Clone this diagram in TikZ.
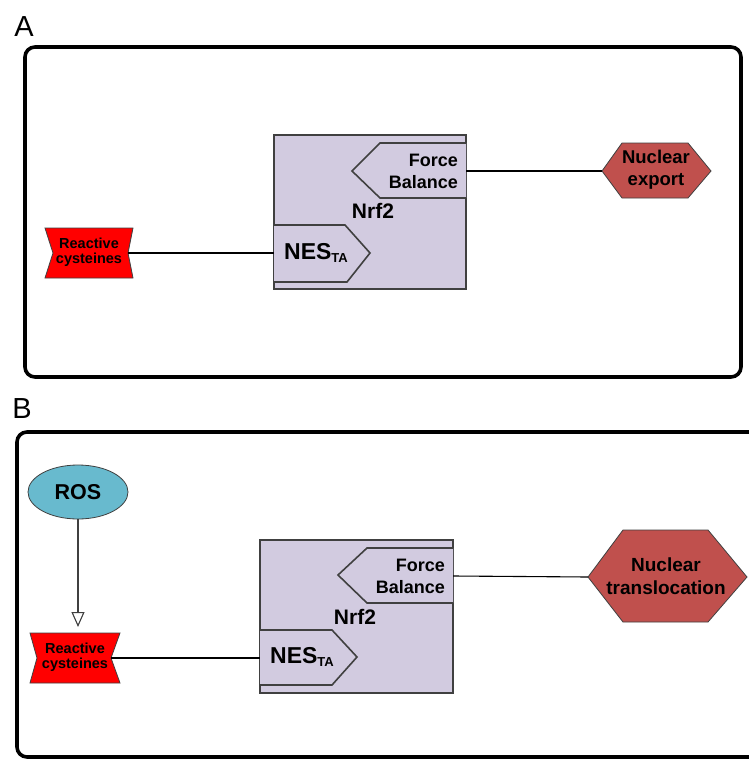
\documentclass[tikz,border=0pt]{standalone}
\usepackage{fontspec}
\setmainfont{Liberation Sans}
\usetikzlibrary{arrows.meta,shapes.geometric}
\definecolor{nrfbg}{RGB}{210,203,224}
\definecolor{edgegray}{RGB}{64,64,64}
\definecolor{cysred}{RGB}{255,0,0}
\definecolor{hexred}{RGB}{192,80,77}
\definecolor{rosblue}{RGB}{104,186,206}
\tikzset{
  panel/.style={draw=black, line width=3.6pt, rounded corners=10pt},
  protein/.style={fill=nrfbg, draw=edgegray, line width=1.6pt},
  protdomain/.style={fill=nrfbg, draw=edgegray, line width=1.6pt},
  cysshape/.style={fill=cysred, draw=edgegray, line width=0.8pt},
  hexshape/.style={fill=hexred, draw=edgegray, line width=0.8pt},
  link/.style={draw=black, line width=1.1pt},
  activates/.style={draw=edgegray, line width=1.1pt, -{Triangle[open, length=15pt, width=13pt]}},
  paneltag/.style={font=\fontsize{29}{30}\selectfont, inner sep=0pt},
  fbtext/.style={font=\fontsize{18}{22}\selectfont\bfseries, align=right, inner sep=0pt},
  nrftext/.style={font=\fontsize{21}{22}\selectfont\bfseries, inner sep=0pt},
  nestext/.style={font=\fontsize{23}{24}\selectfont\bfseries, inner sep=0pt},
  cystext/.style={font=\fontsize{14.5}{15}\selectfont\bfseries, align=center, inner sep=0pt},
  hextext/.style={font=\fontsize{18.5}{22}\selectfont\bfseries, align=center, inner sep=0pt},
}
\newcommand{\nesta}{NES{\fontsize{13}{14}\selectfont\raisebox{-3.5pt}{TA}}}
\begin{document}
\begin{tikzpicture}[x=1pt, y=-1pt]
\clip (0,0) rectangle (749,760);
\fill[white] (0,0) rectangle (749,760);

% ---------------- Panel A ----------------
\node[paneltag] (tagA) at (24,27) {A};
\draw[panel] (25,47) rectangle (741,377);

% Nrf2 protein with its two domains
\draw[protein] (274,135) rectangle (466,289);
\draw[protdomain] (466,143) -- (380,143) -- (352,171) -- (380,198) -- (466,198);
\draw[protdomain] (274,225) -- (345,225) -- (370,253) -- (347,282) -- (274,282);
\node[fbtext, anchor=east] (fbA) at (458,171) {Force\\Balance};
\node[nrftext] (nrfA) at (373,211) {Nrf2};
\node[nestext] (nesA) at (316,253) {\nesta};
\coordinate (fbA-out) at (466,171);
\coordinate (nesA-in) at (274,253);

% Reactive cysteines
\draw[cysshape] (45,228) -- (133,228) -- (128,253) -- (133,278) -- (45,278) -- (53,253) -- cycle;
\node[cystext] (cysA) at (89,252) {Reactive\\cysteines};
\coordinate (cysA-out) at (128,253);

% Nuclear export
\draw[hexshape] (602,171) -- (622,143) -- (688,143) -- (711,171) -- (688,198) -- (622,198) -- cycle;
\node[hextext] (expA) at (656,170) {Nuclear\\export};
\coordinate (expA-in) at (602,171);

\draw[link] (cysA-out) -- (nesA-in);
\draw[link] (fbA-out) -- (expA-in);

% ---------------- Panel B ----------------
\node[paneltag] (tagB) at (22,409) {B};
\draw[panel] (17,432) rectangle (790,757);

% Nrf2 protein with its two domains
\draw[protein] (260,540) rectangle (453,693);
\draw[protdomain] (453,548) -- (367,548) -- (338,575) -- (367,603) -- (453,603);
\draw[protdomain] (260,630) -- (332,630) -- (357,657) -- (332,685) -- (260,685);
\node[fbtext, anchor=east] (fbB) at (445,576) {Force\\Balance};
\node[nrftext] (nrfB) at (355,617) {Nrf2};
\node[nestext] (nesB) at (302,657) {\nesta};
\coordinate (fbB-out) at (453,576);
\coordinate (nesB-in) at (260,658);

% ROS
\node[ellipse, draw=edgegray, line width=0.8pt, fill=rosblue, minimum width=100pt, minimum height=54pt, inner sep=0pt,
      font=\fontsize{21.5}{22}\selectfont\bfseries] (ros) at (78,492) {ROS};

% Reactive cysteines
\draw[cysshape] (30,633) -- (120,633) -- (111,658) -- (120,683) -- (30,683) -- (37,658) -- cycle;
\node[cystext] (cysB) at (75,657) {Reactive\\cysteines};
\coordinate (cysB-out) at (111,658);
\coordinate (cysB-top) at (78,627);

% Nuclear translocation
\draw[hexshape] (588,577) -- (623,530) -- (708,530) -- (747,577) -- (708,622) -- (623,622) -- cycle;
\node[hextext, font=\fontsize{19}{23}\selectfont\bfseries] (trB) at (666,576) {Nuclear\\translocation};
\coordinate (trB-in) at (588,577);

\draw[activates] (ros.south) -- (cysB-top);
\draw[link] (cysB-out) -- (nesB-in);
\draw[link] (fbB-out) -- (trB-in);
\end{tikzpicture}
\end{document}
